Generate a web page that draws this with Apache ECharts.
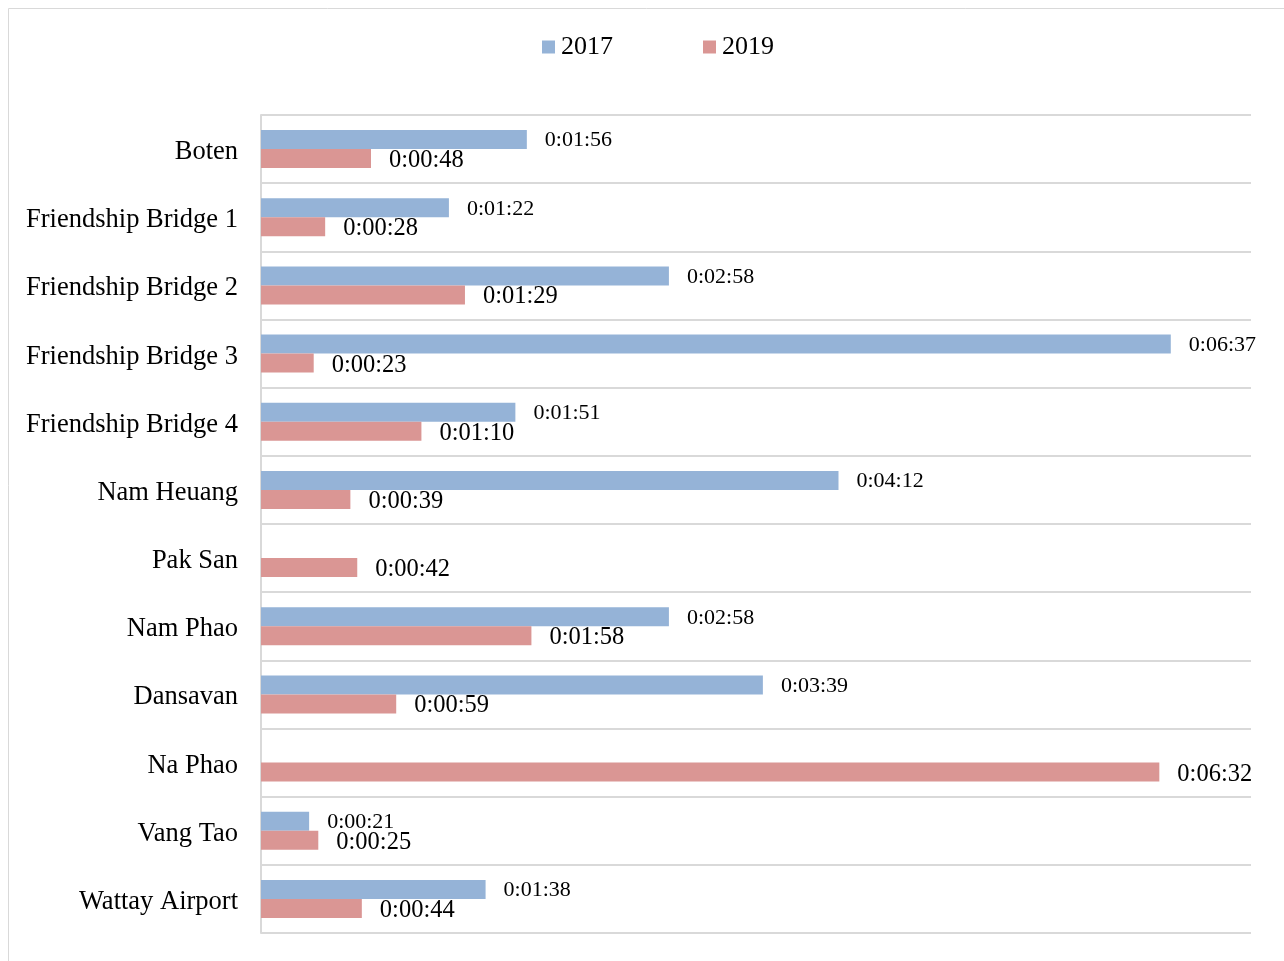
<!DOCTYPE html>
<html>
<head>
<meta charset="utf-8">
<script src="https://cdn.jsdelivr.net/npm/echarts@6/dist/echarts.min.js"></script>
<style>
  html, body { margin: 0; padding: 0; background: #fff; }
  #main { width: 1284px; height: 961px; }
</style>
</head>
<body>
<div id="main"></div>
<script>
// crossing names, top to bottom
var crossings = ['Boten', 'Friendship Bridge 1', 'Friendship Bridge 2', 'Friendship Bridge 3',
  'Friendship Bridge 4', 'Nam Heuang', 'Pak San', 'Nam Phao', 'Dansavan', 'Na Phao',
  'Vang Tao', 'Wattay Airport'];

// times in seconds (null = no data)
var time2017 = [116, 82, 178, 397, 111, 252, null, 178, 219, null, 21, 98];
var time2019 = [48, 28, 89, 23, 70, 39, 42, 118, 59, 392, 25, 44];

var seriesNames = ['2017', '2019'];

function fmtTime(sec) {
  var h = Math.floor(sec / 3600);
  var m = Math.floor((sec % 3600) / 60);
  var s = sec % 60;
  return h + ':' + (m < 10 ? '0' : '') + m + ':' + (s < 10 ? '0' : '') + s;
}

var font = 'Liberation Serif';
var chart = echarts.init(document.getElementById('main'));

var option = {
  animation: false,
  color: ['#95b3d7', '#da9694'],
  textStyle: { fontFamily: font },
  graphic: [{
    type: 'rect',
    shape: { x: 8.5, y: 8.5, width: 1290, height: 980 },
    style: { fill: 'none', stroke: '#d9d9d9', lineWidth: 1 },
    silent: true
  }],
  legend: {
    data: seriesNames,
    top: 29,
    left: 537,
    icon: 'rect',
    itemWidth: 13,
    itemHeight: 13,
    itemGap: 90,
    textStyle: { fontFamily: font, fontSize: 26, color: '#000', padding: [0, 0, 0, 1] }
  },
  grid: {
    left: 261,
    right: 33,
    top: 115,
    bottom: 28
  },
  xAxis: {
    type: 'value',
    min: 0,
    max: 432,
    axisLine: { show: false },
    axisTick: { show: false },
    axisLabel: { show: false },
    splitLine: { show: false }
  },
  yAxis: {
    type: 'category',
    data: crossings,
    inverse: true,
    axisLine: { show: true, lineStyle: { color: '#d9d9d9', width: 2 } },
    axisTick: { show: false },
    axisLabel: {
      color: '#000', fontSize: 26.5, fontFamily: font, margin: 23,
      formatter: function (v) { return '{n|' + v + '}'; },
      rich: { n: { fontSize: 26.5, fontFamily: font, color: '#000', padding: [6, 0, 0, 0] } }
    },
    splitLine: { show: true, lineStyle: { color: '#d9d9d9', width: 2 } }
  },
  series: [{
    name: seriesNames[0],
    type: 'bar',
    data: time2017,
    barWidth: 19,
    barGap: '0%',
    label: {
      show: true,
      position: 'right',
      distance: 18,
      offset: [0, 1],
      color: '#000',
      fontFamily: font,
      fontSize: 22,
      formatter: function (p) { return fmtTime(p.value); }
    }
  }, {
    name: seriesNames[1],
    type: 'bar',
    data: time2019,
    barWidth: 19,
    barGap: '0%',
    label: {
      show: true,
      position: 'right',
      distance: 18,
      offset: [0, 2],
      color: '#000',
      fontFamily: font,
      fontSize: 24.5,
      formatter: function (p) { return fmtTime(p.value); }
    }
  }]
};

chart.setOption(option);
</script>
</body>
</html>
